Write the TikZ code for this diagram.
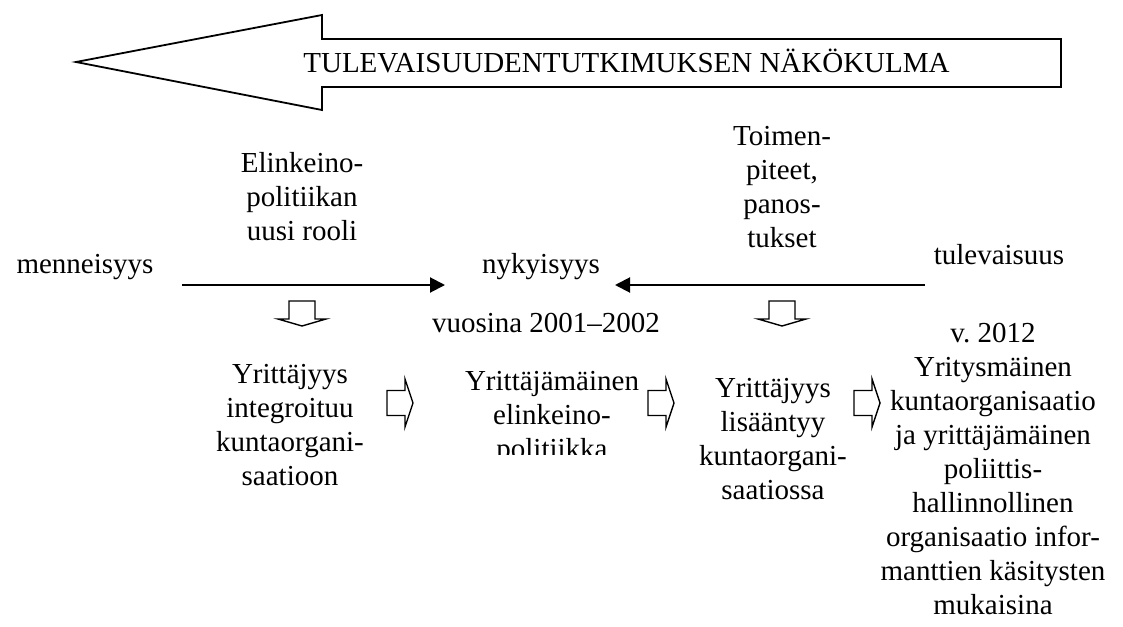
\documentclass[tikz,border=0pt]{standalone}
\usepackage{fontspec}
\setmainfont{Liberation Serif}
\usetikzlibrary{arrows.meta}
\begin{document}
\begin{tikzpicture}[x=0.5pt,y=-0.5pt,
    txt/.style={align=center,inner sep=0pt,anchor=base,font=\fontsize{14.5}{17}\selectfont},
    timeline/.style={-{Triangle[length=7.5pt,width=7.5pt]},line width=1pt},
    block/.style={draw,line width=0.7pt,fill=white},
    downblock/.pic={\path[block] (-13,0) -- (13,0) -- (13,18) -- (24,18) -- (0,25) -- (-24,18) -- (-13,18) -- cycle;},
    rightblock/.pic={\path[block] (0,-12.5) -- (18,-12.5) -- (18,-24) -- (26,0) -- (18,24) -- (18,12.5) -- (0,12.5) -- cycle;}]
    \useasboundingbox (0,0) rectangle (1123,626);
    % big arrow pointing back in time
    \draw[line width=0.9pt] (76,62) -- (322,15) -- (322,39) -- (1061,39) -- (1061,87) -- (322,87) -- (322,110) -- cycle;
    \node[txt] (title) at (626.5,73) {TULEVAISUUDENTUTKIMUKSEN NÄKÖKULMA};
    % time points
    \node[txt] (past) at (85,273) {menneisyys};
    \node[txt] (present) at (541,273) {nykyisyys};
    \node[txt] (future) at (999,264) {tulevaisuus};
    \coordinate (pastarr) at (182,285);
    \coordinate (presleft) at (445,285);
    \coordinate (presright) at (615,285);
    \coordinate (futarr) at (925,285);
    \draw[timeline] (pastarr) -- (presleft);
    \draw[timeline] (futarr) -- (presright);
    % anchor=base is the last line of a node
    \node[txt] (role) at (302,240) {Elinkeino-\\politiikan\\uusi rooli};
    \node[txt] (measures) at (782,247) {Toimen-\\piteet,\\panos-\\tukset};
    \node[txt] (years) at (546,332) {vuosina 2001–2002};
    % stages
    \node[txt] (integ) at (290,485) {Yrittäjyys\\integroituu\\kuntaorgani-\\saatioon};
    \begin{scope}
        \clip (420,340) rectangle (680,454);
        \node[txt] (policy) at (552,458) {Yrittäjämäinen\\elinkeino-\\politiikka};
    \end{scope}
    \node[txt] (incr) at (773,499) {Yrittäjyys\\lisääntyy\\kuntaorgani-\\saatiossa};
    \node[txt] (goal) at (993,614) {v.\ 2012\\Yritysmäinen\\kuntaorganisaatio\\ja yrittäjämäinen\\poliittis-\\hallinnollinen\\organisaatio infor-\\manttien käsitysten\\mukaisina};
    % hollow arrows
    \pic at (302,301) {downblock};
    \pic at (782,301) {downblock};
    \pic at (387,403) {rightblock};
    \pic at (648,403) {rightblock};
    \pic at (854,403) {rightblock};
\end{tikzpicture}
\end{document}
